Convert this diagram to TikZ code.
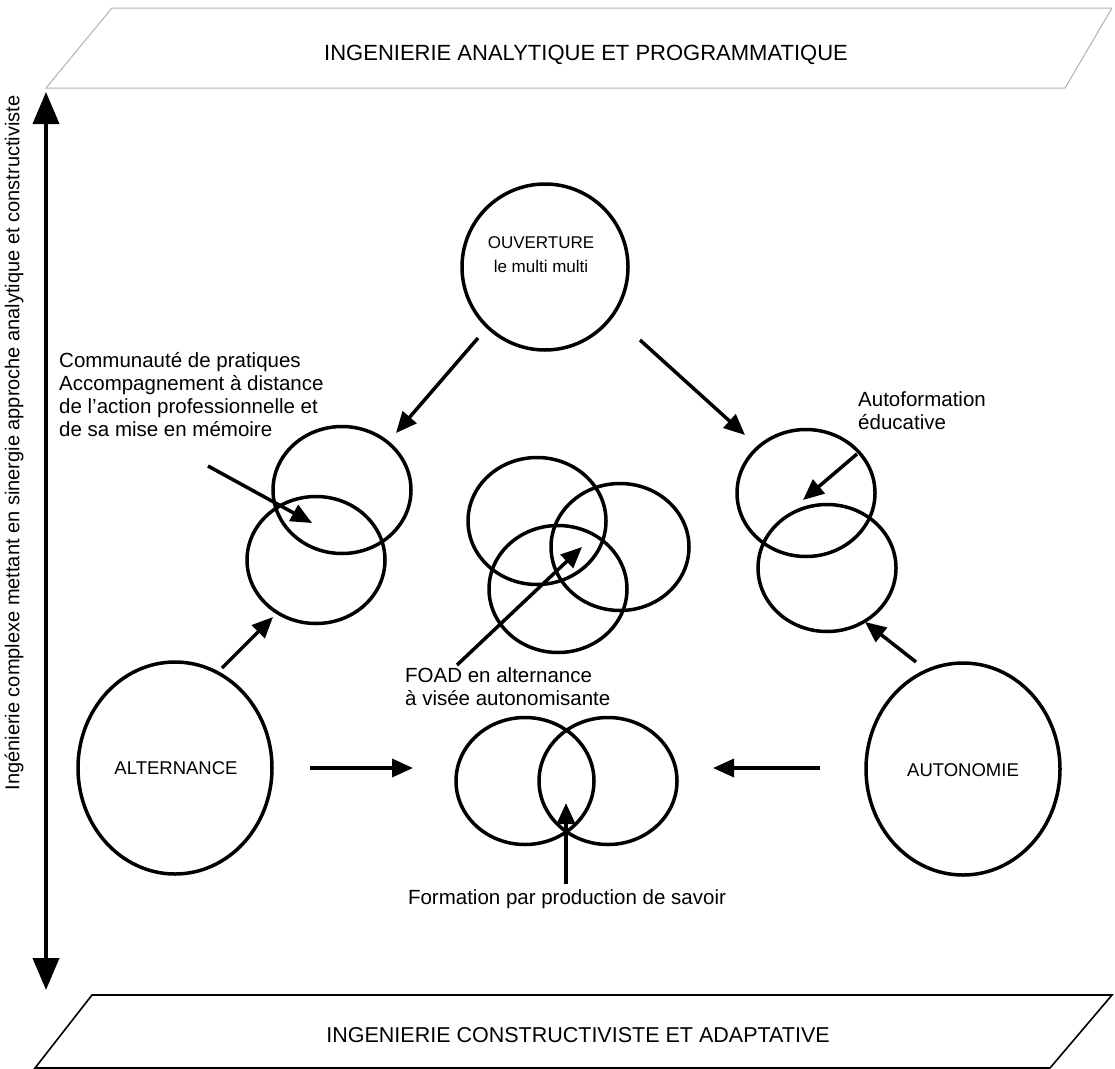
\documentclass[tikz,border=0pt]{standalone}
\usepackage{fontspec}
\setmainfont{Liberation Sans}
\usetikzlibrary{arrows.meta,shapes.geometric}
\begin{document}
\begin{tikzpicture}[x=1pt,y=-1pt,
  ring/.style={draw, ellipse, line width=3.5pt, inner sep=0pt},
  pairring/.style={ring, minimum width=138pt, minimum height=127pt},
  poleA/.style={ring, minimum width=194pt, minimum height=212pt},
  poleO/.style={ring, minimum width=166pt, minimum height=166pt},
  conn/.style={line width=3.5pt, -{Triangle[length=21pt,width=18pt]}},
  lbl/.style={font=\fontsize{20.5}{23}\selectfont, inner sep=0pt},
  caps/.style={font=\fontsize{18.5}{23}\selectfont, inner sep=0pt},
  bandtext/.style={font=\fontsize{22}{26}\selectfont, inner sep=0pt}
]
\useasboundingbox (0,0) rectangle (1115,1068);

% upper band: analytical engineering
\draw[gray!60, line width=1pt] (112,8) -- (1112,8) -- (1065,88) -- (46,88) -- cycle;
\node[bandtext] (analytique) at (586,55) {INGENIERIE ANALYTIQUE ET PROGRAMMATIQUE};

% lower band: constructivist engineering
\draw[line width=1.6pt] (92,995) -- (1112,995) -- (1050,1068) -- (35,1068) -- cycle;
\node[bandtext, font=\fontsize{21.5}{26}\selectfont] (constructiviste) at (578,1035) {INGENIERIE CONSTRUCTIVISTE ET ADAPTATIVE};

% vertical axis between the two bands
\coordinate (axtop) at (46,92);
\coordinate (axbot) at (46,990);
\draw[line width=4pt, {Triangle[length=32pt,width=26pt]}-{Triangle[length=32pt,width=26pt]}] (axtop) -- (axbot);
\node[caps, font=\fontsize{20}{23}\selectfont, rotate=90] (axis) at (14,443) {Ingénierie complexe mettant en sinergie approche analytique et constructiviste};

% the three poles
\node[poleO] (ouv) at (545,267) {};
\node[caps, font=\fontsize{17}{24}\selectfont, align=center] (ouvtext) at (541,255) {OUVERTURE\\le multi multi};
\node[poleA] (alt) at (175,768) {};
\node[caps] (alttext) at (176,768) {ALTERNANCE};
\node[poleA] (aut) at (963,769) {};
\node[caps] (auttext) at (963,770) {AUTONOMIE};

% overlapping rings
\node[pairring] (l1) at (342,490) {};
\node[pairring] (l2) at (316,560) {};
\node[pairring] (m1) at (537,521) {};
\node[pairring] (m2) at (620,547) {};
\node[pairring] (m3) at (558,589) {};
\node[pairring] (r1) at (806,493) {};
\node[pairring] (r2) at (827,568) {};
\node[pairring] (b1) at (525,781) {};
\node[pairring] (b2) at (608,781) {};

% labels
\node[lbl, align=left, anchor=north west] (commu) at (59,352)
  {Communauté de pratiques\\Accompagnement à distance\\de l'action professionnelle et\\de sa mise en mémoire};
\node[lbl, align=left, anchor=north west] (foad) at (405,667)
  {FOAD en alternance\\à visée autonomisante};
\node[lbl] (prod) at (567,899) {Formation par production de savoir};
\node[lbl, align=left, anchor=north west] (autof) at (858,391)
  {Autoformation\\éducative};

% arrow end points
\coordinate (o1s) at (478,338); \coordinate (o1e) at (396,433);
\coordinate (o2s) at (640,340); \coordinate (o2e) at (745,435);
\coordinate (a1s) at (222,668); \coordinate (a1e) at (273,617);
\coordinate (a2s) at (310,768); \coordinate (a2e) at (413,768);
\coordinate (u1s) at (820,768); \coordinate (u1e) at (713,768);
\coordinate (u2s) at (916,662); \coordinate (u2e) at (865,622);
\coordinate (c1s) at (208,466); \coordinate (c1e) at (312,523);
\coordinate (f1s) at (457,665); \coordinate (f1e) at (582,547);
\coordinate (p1s) at (566,884); \coordinate (p1e) at (566,803);
\coordinate (e1s) at (857,454); \coordinate (e1e) at (803,500);

\draw[conn] (o1s) -- (o1e);
\draw[conn] (o2s) -- (o2e);
\draw[conn] (a1s) -- (a1e);
\draw[conn] (a2s) -- (a2e);
\draw[conn] (u1s) -- (u1e);
\draw[conn] (u2s) -- (u2e);
\draw[conn] (c1s) -- (c1e);
\draw[conn] (f1s) -- (f1e);
\draw[conn] (p1s) -- (p1e);
\draw[conn] (e1s) -- (e1e);
\end{tikzpicture}
\end{document}
